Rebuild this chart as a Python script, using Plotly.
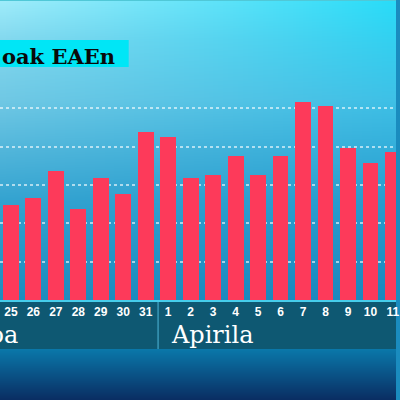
import base64
import struct
import zlib

import plotly.graph_objects as go

# ---- data ----
days = ["25", "26", "27", "28", "29", "30", "31", "1", "2", "3", "4", "5", "6", "7", "8", "9", "10", "11"]
values = [24.8, 26.6, 33.7, 23.8, 31.9, 27.7, 43.9, 42.6, 31.9, 32.6, 37.6, 32.6, 37.6, 51.7, 50.7, 39.7, 35.8, 38.6]
grid_ticks = [10, 20, 30, 40, 50]
month_labels = ["Martxoa", "Apirila"]
title_text = "oak EAEn"

W, H = 400, 400
PLOT_BOTTOM = 300
BAR_STEP = 22.7
X0 = -11 / BAR_STEP
X1 = X0 + W / BAR_STEP


# ---- background gradient image ----
def lerp(a, b, t):
    return tuple(a[i] + (b[i] - a[i]) * t for i in range(3))


rows = [
    (0, (160, 236, 250), (40, 220, 248)),
    (40, (132, 216, 238), (50, 208, 240)),
    (100, (112, 200, 228), (62, 192, 230)),
    (200, (52, 163, 208), (40, 156, 206)),
    (300, (30, 140, 190), (25, 135, 190)),
]


def bg(x, y):
    if y < 1:
        return (80, 200, 215)
    if y <= 300:
        for k in range(len(rows) - 1):
            y0, l0, r0 = rows[k]
            y1, l1, r1 = rows[k + 1]
            if y0 <= y <= y1:
                t = (y - y0) / (y1 - y0)
                left = lerp(l0, l1, t)
                right = lerp(r0, r1, t)
                return lerp(left, right, x / W)
    if y <= 349:
        return (14, 88, 114)
    t = (y - 349) / 51
    return lerp((10, 120, 170), (10, 45, 98), t)


def make_png(w, h):
    raw = bytearray()
    for j in range(h):
        raw.append(0)
        y = (j + 0.5) * H / h
        for i in range(w):
            x = (i + 0.5) * W / w
            c = bg(x, y)
            raw.extend(int(max(0, min(255, round(v)))) for v in c)

    def chunk(tag, data):
        c = struct.pack(">I", len(data)) + tag + data
        return c + struct.pack(">I", zlib.crc32(tag + data) & 0xFFFFFFFF)

    png = b"\x89PNG\r\n\x1a\n"
    png += chunk(b"IHDR", struct.pack(">IIBBBBB", w, h, 8, 2, 0, 0, 0))
    png += chunk(b"IDAT", zlib.compress(bytes(raw), 9))
    png += chunk(b"IEND", b"")
    return "data:image/png;base64," + base64.b64encode(png).decode()


bg_src = make_png(40, 400)


def py(px):
    # pixel row -> paper y
    return (PLOT_BOTTOM - px) / PLOT_BOTTOM


xs = list(range(len(days)))

fig = go.Figure(
    go.Bar(
        x=xs,
        y=values,
        width=16 / BAR_STEP,
        marker=dict(color="#fd3a5a", line=dict(width=0)),
        hoverinfo="skip",
    )
)

fig.update_layout(
    width=W,
    height=H,
    margin=dict(l=0, r=0, t=0, b=H - PLOT_BOTTOM, pad=0),
    paper_bgcolor="#1a8cbf",
    plot_bgcolor="rgba(0,0,0,0)",
    showlegend=False,
    bargap=0,
    images=[
        dict(
            source=bg_src,
            xref="paper",
            yref="paper",
            x=0,
            y=1,
            sizex=1,
            sizey=H / PLOT_BOTTOM,
            sizing="stretch",
            xanchor="left",
            yanchor="top",
            layer="below",
        )
    ],
    shapes=[
        # title box
        dict(
            type="rect",
            xref="paper",
            yref="paper",
            x0=0,
            x1=130 / W,
            y0=py(67),
            y1=py(40),
            fillcolor="#00e6f6",
            line=dict(width=0),
            layer="above",
        ),
        # month separator
        dict(
            type="line",
            xref="x",
            yref="paper",
            x0=6.55,
            x1=6.55,
            y0=py(302),
            y1=py(349),
            line=dict(color="#3a98b8", width=1.5),
        ),
    ],
    annotations=[
        dict(
            text=title_text,
            xref="paper",
            yref="paper",
            x=0,
            y=py(57),
            xanchor="left",
            yanchor="middle",
            showarrow=False,
            font=dict(family="DejaVu Serif", size=21, color="#0a0a0a", weight="bold"),
        ),
        dict(
            text=month_labels[0],
            xref="x",
            yref="paper",
            x=X0 + 20 / BAR_STEP,
            y=py(335),
            xanchor="right",
            yanchor="middle",
            showarrow=False,
            font=dict(family="DejaVu Serif", size=24, color="#ffffff"),
        ),
        dict(
            text=month_labels[1],
            xref="x",
            yref="paper",
            x=7.05,
            y=py(335),
            xanchor="left",
            yanchor="middle",
            showarrow=False,
            font=dict(family="DejaVu Serif", size=24, color="#ffffff"),
        ),
    ],
)

fig.update_xaxes(
    range=[X0, X1],
    tickvals=xs,
    ticktext=days,
    tickfont=dict(family="Liberation Sans", size=12, color="#ffffff", weight="bold"),
    showgrid=False,
    zeroline=False,
    showline=True,
    linecolor="rgb(70,205,235)",
    linewidth=2,
    ticks="",
    ticklabelstandoff=0,
    ticklabeloverflow="allow",
    fixedrange=True,
)

fig.update_yaxes(
    range=[0, 78.3],
    tickvals=grid_ticks,
    showticklabels=False,
    showgrid=True,
    gridcolor="rgba(255,255,255,0.6)",
    gridwidth=1.5,
    griddash="dot",
    zeroline=False,
    showline=False,
    fixedrange=True,
)

fig.write_html(
    "out.html",
    config=dict(displayModeBar=False),
    post_script="document.body.style.margin='0';document.body.style.overflow='hidden';",
)
